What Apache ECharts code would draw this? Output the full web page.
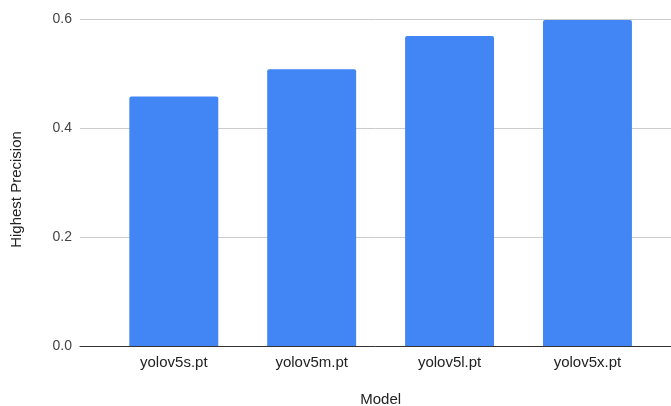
<!DOCTYPE html>
<html>
<head>
<meta charset="utf-8">
<script src="https://cdn.jsdelivr.net/npm/echarts@6/dist/echarts.min.js"></script>
<style>
  html, body { margin: 0; padding: 0; background: #fff; }
  #chart { width: 671px; height: 406px; }
</style>
</head>
<body>
<div id="chart"></div>
<script>
// Highest precision reached by each YOLOv5 model size
const models = ['yolov5s.pt', 'yolov5m.pt', 'yolov5l.pt', 'yolov5x.pt'];
const highestPrecision = [0.458, 0.508, 0.569, 0.598];
const yTicks = { min: 0, max: 0.6, interval: 0.2 };

const FONT = 'Liberation Sans, Arial, sans-serif';
const chart = echarts.init(document.getElementById('chart'), null, { renderer: 'canvas' });

chart.setOption({
  animation: false,
  backgroundColor: '#ffffff',
  grid: [
    // bars
    { left: 104.85, right: 14.6, top: 19, bottom: 60, outerBoundsMode: 'none' },
    // full-width frame for gridlines, tick labels and the baseline
    { left: 80, right: 0, top: 19, bottom: 60, outerBoundsMode: 'none' }
  ],
  xAxis: [
    {
      type: 'category',
      gridIndex: 0,
      data: models,
      axisLine: { show: false },
      axisTick: { show: false },
      axisLabel: { color: '#222', fontSize: 15, fontFamily: FONT, margin: 9 },
      name: 'Model',
      nameLocation: 'middle',
      nameGap: 46,
      nameTextStyle: { color: '#222', fontSize: 15, fontFamily: FONT }
    },
    {
      type: 'value',
      gridIndex: 1,
      min: 0, max: 1,
      axisLine: { show: true, lineStyle: { color: '#333', width: 1 } },
      axisTick: { show: false },
      axisLabel: { show: false },
      splitLine: { show: false },
      z: 3
    }
  ],
  yAxis: [
    {
      type: 'value',
      gridIndex: 0,
      min: yTicks.min, max: yTicks.max, interval: yTicks.interval,
      show: false
    },
    {
      type: 'value',
      gridIndex: 1,
      min: yTicks.min, max: yTicks.max, interval: yTicks.interval,
      axisLine: { show: false },
      axisTick: { show: false },
      axisLabel: {
        color: '#444', fontSize: 14, fontFamily: FONT, margin: 8,
        formatter: v => v.toFixed(1)
      },
      splitLine: { show: true, lineStyle: { color: '#cccccc', width: 1 } },
      name: 'Highest Precision',
      nameLocation: 'middle',
      nameGap: 56,
      nameTextStyle: { color: '#222', fontSize: 15, fontFamily: FONT, padding: [0, 14, 0, 0] }
    }
  ],
  series: [{
    type: 'bar',
    xAxisIndex: 0,
    yAxisIndex: 0,
    data: highestPrecision,
    barWidth: '64.5%',
    itemStyle: { color: '#4285F4', borderRadius: [2, 2, 0, 0] },
    z: 2
  }]
});
</script>
</body>
</html>
